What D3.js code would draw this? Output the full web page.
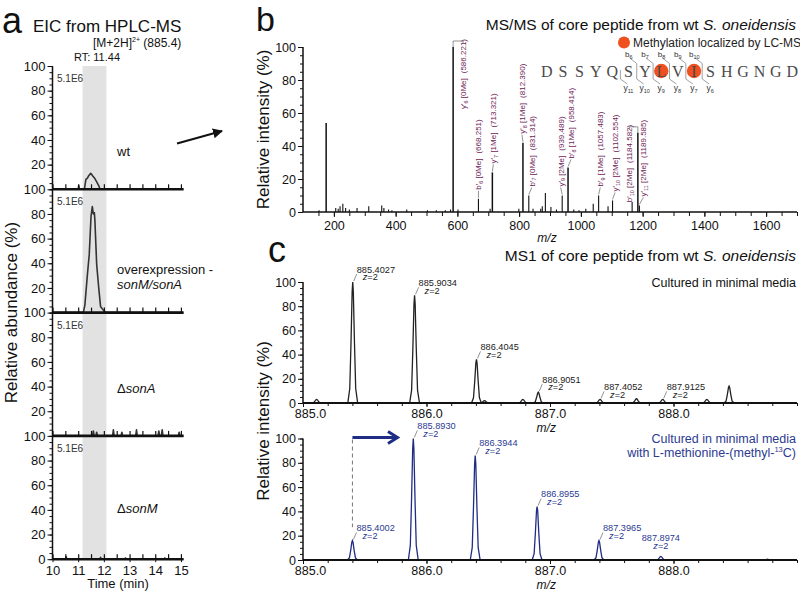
<!DOCTYPE html>
<html><head><meta charset="utf-8">
<script src="https://cdn.jsdelivr.net/npm/d3@7"></script>
<style>body{margin:0;background:#fff}svg{display:block}</style>
</head><body><svg id="c" width="800" height="593"></svg>
<script>
// ================= DATA =================
// Panel a: EIC traces [time (min), relative abundance %]
const eicTimeTicks = [10, 11, 12, 13, 14, 15];
const eicYTicks = [0, 20, 40, 60, 80, 100];
const eicScaleText = "5.1E6";
const eicRT = "RT: 11.44";
const wtTrace = [[10,0],[11.0,0],[11.02,3],[11.05,0],[11.24,0],[11.3,8],[11.36,9],[11.41,11],[11.49,13],[11.56,11],[11.64,9],[11.72,6],[11.8,3],[11.85,0],[15.1,0]];
const overTrace = [[10,0],[11.2,0],[11.26,6],[11.36,31],[11.43,47],[11.5,78],[11.55,86],[11.59,80],[11.63,81],[11.65,75],[11.72,39],[11.8,20],[11.87,5],[11.98,2],[12.08,0],[15.1,0]];
const sonASpikes = [[11.59,4],[11.72,3],[12.37,5],[12.7,3],[13.27,5],[14.14,4],[14.27,5],[14.93,3]];
const sonMSpikes = [[10.53,2],[11.87,1.5],[12.84,1],[14.37,1]];
const rtWindow = [11.17, 12.1];

// Panel b: MS/MS centroid peaks
const msmsMz  = [152,175,206,214,220,229,238,250,275,313,355,362,377,388,436,503,532,561,578,586.221,602,668.251,706,713.321,799,812.390,831.314,845,870,875,885,903,921,939.489,958.414,977,994,1016,1040,1057.483,1088,1102.554,1166,1184.582,1189.585];
const msmsInt = [1,54,2.5,2,3.5,5,2.5,1.5,2.5,3.5,4,2.5,1.5,1,1.5,1,1,1,1.5,100,1.5,8,2,24,2,42,10,2,2,3.5,11.5,3,1.5,10,27,1.5,1,2,5,10,3.5,7,6,48,4];
const msmsXTicks = [200,400,600,800,1000,1200,1400,1600];
const msmsYTicks = [0,20,40,60,80,100];
const ionMz   = [586.221,668.251,713.321,812.390,831.314,939.489,958.414,1057.483,1102.554,1184.582,1189.585];
const ionType = ["y","b","y","y","b","y","b","b","y","b","y"];
const ionNum  = ["6","6","7","8","7","9","8","9","10","10","11"];
const ionMe   = ["0Me","0Me","1Me","1Me","0Me","2Me","1Me","1Me","2Me","2Me","2Me"];
const sequence = ["D","S","S","Y","Q","S","Y","L","V","I","S","H","G","N","G","D"];
const methylated = [7, 9];
const bFragments = [6,7,8,9,10];
const yFragments = [11,10,9,8,7,6];

// Panel c: MS1 isotope peaks
const ms1XTicks = [885.0, 886.0, 887.0, 888.0];
const ms1TopMz  = [885.11,885.4027,885.9034,886.4045,886.47,886.78,886.9051,887.4052,887.70,887.9125,888.27,888.45];
const ms1TopInt = [3,100,89,36,2,3,9,3,3.5,3,3,14];
const ms1TopLabels = ["885.4027","885.9034","886.4045","886.9051","887.4052","887.9125"];
const ms1BotMz  = [885.4002,885.8930,886.3944,886.8955,887.3965,887.8974,888.76];
const ms1BotInt = [16,100,86,44,16,3,0.6];
const ms1BotLabels = ["885.4002","885.8930","886.3944","886.8955","887.3965","887.8974"];

// ================= DRAW =================
const FONT = '"Liberation Sans", Arial, Helvetica, sans-serif';
const svg = d3.select("#c").attr("font-family", FONT);
const PURPLE = "#6e2256", NAVY = "#1f2d85", NAVYTXT = "#2c3a92", ORANGE = "#f0501f";

function txt(x, y, s, o = {}) {
  const t = svg.append("text").attr("x", x).attr("y", y).text(s)
    .attr("font-size", o.size || 12).attr("fill", o.fill || "#111")
    .attr("text-anchor", o.anchor || "start");
  if (o.italic) t.attr("font-style", "italic");
  return t;
}
function yAxis(g, y, x0, labels, labelSize) {
  const minor = g.append("g").attr("transform", `translate(${x0},0)`)
    .call(d3.axisLeft(y).tickValues(d3.range(0, 101, 5)).tickSize(3).tickFormat(""));
  const major = g.append("g").attr("transform", `translate(${x0},0)`)
    .call(d3.axisLeft(y).tickValues(labels).tickSize(5).tickPadding(2).tickFormat(d3.format("d")));
  [minor, major].forEach(a => { a.select(".domain").remove(); a.selectAll("line").attr("stroke", "#111").attr("stroke-width", 1); });
  major.selectAll("text").attr("font-size", labelSize).attr("font-family", FONT).attr("fill", "#111");
}

// ---------- Panel a ----------
txt(2, 33, "a", { size: 36 });
txt(33, 31.5, "EIC from HPLC-MS", { size: 17 });
const sub = txt(93, 46.5, "[M+2H]", { size: 12 });
sub.append("tspan").attr("font-size", 7).attr("dy", -5).text("2+");
sub.append("tspan").attr("dy", 5).text(" (885.4)");
txt(97, 61, eicRT, { size: 11, anchor: "middle" });

const xA = d3.scaleLinear().domain([10, 15.1]).range([52.5, 183.5]);
const aTop = 66, aH = 123.3;
const ga = svg.append("g");
ga.append("rect").attr("x", xA(rtWindow[0])).attr("width", xA(rtWindow[1]) - xA(rtWindow[0]))
  .attr("y", aTop).attr("height", aH * 4).attr("fill", "#e2e2e2");

function spikesToTrace(sp) {
  const pts = [[10, 0]];
  sp.forEach(([t, h]) => { pts.push([t - 0.03, 0], [t, h], [t + 0.03, 0]); });
  pts.push([15.1, 0]);
  return pts;
}
const traces = [wtTrace, overTrace, spikesToTrace(sonASpikes), spikesToTrace(sonMSpikes)];
traces.forEach((tr, i) => {
  const y = d3.scaleLinear().domain([0, 100]).range([aTop + (i + 1) * aH, aTop + i * aH]);
  yAxis(ga, y, xA(10), i === 3 ? eicYTicks : eicYTicks.slice(1), 13);
  ga.append("path").datum(tr).attr("fill", "none").attr("stroke", "#333").attr("stroke-width", 1.6)
    .attr("stroke-linejoin", "round")
    .attr("d", d3.line().x(d => xA(d[0])).y(d => y(d[1])));
  ga.append("line").attr("x1", xA(10)).attr("x2", xA(15.1)).attr("y1", y(0)).attr("y2", y(0))
    .attr("stroke", "#111").attr("stroke-width", 2.6);
  const tk = ga.append("g").attr("transform", `translate(0,${y(0)})`)
    .call(d3.axisTop(xA).tickValues(d3.range(10, 15.01, 0.5)).tickSize(5).tickFormat(""));
  tk.select(".domain").remove(); tk.selectAll("line").attr("stroke", "#111").attr("stroke-width", 1.2);
  txt(57, aTop + i * aH + 16, eicScaleText, { size: 10, fill: "#333" });
});
ga.append("line").attr("x1", xA(10)).attr("x2", xA(10)).attr("y1", aTop).attr("y2", aTop + 4 * aH)
  .attr("stroke", "#111").attr("stroke-width", 1.5);
const xAx = ga.append("g").attr("transform", `translate(0,${aTop + 4 * aH})`)
  .call(d3.axisBottom(xA).tickValues(eicTimeTicks).tickSize(3).tickPadding(4).tickFormat(d3.format("d")));
xAx.select(".domain").remove();
xAx.selectAll("line").attr("stroke", "#111");
xAx.selectAll("text").attr("font-size", 13).attr("font-family", FONT).attr("fill", "#111");
txt((xA(10) + xA(15.1)) / 2, 588, "Time  (min)", { size: 13, anchor: "middle" });
svg.append("text").attr("transform", `translate(17,${aTop + 2 * aH}) rotate(-90)`)
  .attr("text-anchor", "middle").attr("font-size", 17).attr("fill", "#111").text("Relative abundance (%)");
txt(117, 156, "wt", { size: 13 });
const ov = txt(117, 274, "overexpression -", { size: 13 });
ov.append("tspan").attr("x", 117).attr("dy", 14.5).attr("font-style", "italic").text("sonM/sonA");
const dA = txt(117, 393, "Δ", { size: 13 }); dA.append("tspan").attr("font-style", "italic").text("sonA");
const dM = txt(117, 513, "Δ", { size: 13 }); dM.append("tspan").attr("font-style", "italic").text("sonM");

// arrow a -> b
svg.append("defs").html('<marker id="ah" viewBox="0 0 10 10" refX="9" refY="5" markerWidth="5" markerHeight="5" orient="auto"><path d="M0,0 L10,5 L0,10 z" fill="#111"/></marker>');
svg.append("line").attr("x1", 177).attr("y1", 143.5).attr("x2", 222).attr("y2", 131)
  .attr("stroke", "#111").attr("stroke-width", 2).attr("marker-end", "url(#ah)");

// ---------- Panel b ----------
txt(256, 31, "b", { size: 34 });
const tb = txt(796, 30, "MS/MS of core peptide from wt ", { size: 15.5, anchor: "end" });
tb.append("tspan").attr("font-style", "italic").text("S. oneidensis");

const xB = d3.scaleLinear().domain([100, 1700]).range([303, 797]);
const yB = d3.scaleLinear().domain([0, 100]).range([212, 47]);
const gb = svg.append("g");
yAxis(gb, yB, xB(100), msmsYTicks, 12.5);
gb.append("line").attr("x1", xB(100)).attr("x2", xB(100)).attr("y1", yB(100)).attr("y2", yB(0)).attr("stroke", "#111").attr("stroke-width", 1.5);
gb.selectAll(".pk").data(msmsMz.map((m, i) => [m, msmsInt[i]])).join("line")
  .attr("x1", d => xB(d[0])).attr("x2", d => xB(d[0])).attr("y1", yB(0)).attr("y2", d => yB(d[1]))
  .attr("stroke", "#111").attr("stroke-width", d => d[1] > 15 ? 1.5 : 1.1);
gb.append("line").attr("x1", xB(100)).attr("x2", xB(1700)).attr("y1", yB(0)).attr("y2", yB(0)).attr("stroke", "#111").attr("stroke-width", 1.6);
const minB = gb.append("g").attr("transform", `translate(0,${yB(0)})`)
  .call(d3.axisBottom(xB).tickValues(d3.range(150, 1701, 50)).tickSize(4).tickFormat(""));
minB.select(".domain").remove(); minB.selectAll("line").attr("stroke", "#111");
const majB = gb.append("g").attr("transform", `translate(0,${yB(0)})`)
  .call(d3.axisBottom(xB).tickValues(msmsXTicks).tickSize(5).tickPadding(4).tickFormat(d3.format("d")));
majB.select(".domain").remove(); majB.selectAll("line").attr("stroke", "#111");
majB.selectAll("text").attr("font-size", 12.5).attr("font-family", FONT).attr("fill", "#111");
txt(547, 242, "m/z", { size: 12, italic: true, anchor: "middle" });
svg.append("text").attr("transform", `translate(269,${(yB(0) + yB(100)) / 2}) rotate(-90)`)
  .attr("text-anchor", "middle").attr("font-size", 17).attr("fill", "#111").text("Relative intensity (%)");

// ion annotations (vertical labels)
const labOffset = { 0: 10, 2: 1, 3: -1, 4: 3, 5: -1.5, 6: 3, 7: 1.7, 8: 2.5, 9: -8.5, 10: 4 };
ionMz.forEach((mz, i) => {
  const inten = msmsInt[msmsMz.indexOf(mz)];
  const px = xB(mz), py = yB(inten);
  const lx = px + (labOffset[i] || 0);
  const g = gb.append("g");
  const t = g.append("text").attr("y", 2.8).attr("font-size", 8).attr("fill", PURPLE);
  t.append("tspan").text(ionType[i] + "′");
  t.append("tspan").attr("font-size", 5.5).attr("dy", 1.8).text(ionNum[i]);
  t.append("tspan").attr("dy", -1.8).text(` [${ionMe[i]}]`);
  t.append("tspan").attr("dx", 5).text(`(${mz.toFixed(3)})`);
  const L = t.node().getComputedTextLength();
  let ys;
  if (inten > 45) {
    const top = py - 4;
    ys = top + L + 1;
    gb.append("path").attr("d", `M${px},${py} V${top - 2} H${lx} V${top + 1}`)
      .attr("fill", "none").attr("stroke", "#777").attr("stroke-width", 0.8);
  } else {
    ys = py - 9;
    gb.append("line").attr("x1", px).attr("y1", py - 1).attr("x2", lx).attr("y2", ys + 1)
      .attr("stroke", "#777").attr("stroke-width", 0.8);
  }
  g.attr("transform", `translate(${lx},${ys}) rotate(-90)`);
});

// legend + sequence
svg.append("circle").attr("cx", 624).attr("cy", 42.5).attr("r", 6).attr("fill", ORANGE);
txt(633, 46.5, "Methylation localized by LC-MS", { size: 12, fill: "#222" });
const seqX = i => 546.7 + i * 16.37;
methylated.forEach(i => svg.append("circle").attr("cx", seqX(i)).attr("cy", 71).attr("r", 7.2).attr("fill", ORANGE));
sequence.forEach((r, i) => txt(seqX(i), 76.5, r, { size: 16, anchor: "middle", fill: "#4a4a4a" })
  .attr("font-family", '"Liberation Serif", "DejaVu Serif", serif'));
const gapX = n => (seqX(n - 1) + seqX(n)) / 2;
bFragments.forEach(n => {
  const gx = gapX(n);
  svg.append("path").attr("d", `M${gx - 7},58 L${gx},63.5 V70`).attr("fill", "none").attr("stroke", "#888").attr("stroke-width", 0.8);
  const t = txt(gx - 8, 57, "b", { size: 8, anchor: "middle", fill: "#333" });
  t.append("tspan").attr("font-size", 5.5).attr("dy", 1.5).text(n);
});
yFragments.forEach(n => {
  const gx = gapX(sequence.length - n);
  svg.append("path").attr("d", `M${gx},70 V79 L${gx + 7},84`).attr("fill", "none").attr("stroke", "#888").attr("stroke-width", 0.8);
  const t = txt(gx + 8, 91, "y", { size: 8.5, anchor: "middle", fill: "#333" });
  t.append("tspan").attr("font-size", 5.5).attr("dy", 1.5).text(n);
});

// ---------- Panel c ----------
txt(268, 262, "c", { size: 36 });
const tc = txt(796, 261, "MS1 of core peptide from wt ", { size: 15.5, anchor: "end" });
tc.append("tspan").attr("font-style", "italic").text("S. oneidensis");

const xC = d3.scaleLinear().domain([885, 889]).range([303, 797]);
const yC1 = d3.scaleLinear().domain([0, 100]).range([403, 282]);
const yC2 = d3.scaleLinear().domain([0, 100]).range([560, 438.5]);
const peakShape = [[-1, 0], [-0.6, 0.12], [-0.35, 0.5], [-0.12, 0.92], [0, 1], [0.12, 0.92], [0.35, 0.5], [0.6, 0.12], [1, 0]];
const HW = 0.04;
function profile(mzs, ints) {
  const pts = [[885, 0]];
  mzs.forEach((m, i) => peakShape.forEach(([dx, f]) => pts.push([m + dx * HW, ints[i] * f])));
  pts.push([889, 0]);
  return pts;
}
function isoLabel(x, y, lab, col, anchor, zdx) {
  const t = txt(x, y, lab, { size: 9.2, anchor: anchor, fill: col });
  const z = t.append("tspan").attr("x", x + zdx).attr("dy", 7.8);
  z.append("tspan").attr("font-style", "italic").text("z");
  z.append("tspan").text("=2");
}
const gc = svg.append("g");
[[yC1, ms1TopMz, ms1TopInt, ms1TopLabels, "#222", "#222"], [yC2, ms1BotMz, ms1BotInt, ms1BotLabels, NAVY, NAVYTXT]].forEach(([y, mzs, ints, labs, col, tcol], k) => {
  yAxis(gc, y, xC(885), msmsYTicks, 12.5);
  gc.append("line").attr("x1", xC(885)).attr("x2", xC(885)).attr("y1", y(100)).attr("y2", y(0)).attr("stroke", "#111").attr("stroke-width", 1.5);
  gc.append("path").datum(profile(mzs, ints)).attr("fill", "none").attr("stroke", col).attr("stroke-width", 1.3)
    .attr("d", d3.line().x(d => xC(d[0])).y(d => y(d[1])));
  gc.append("line").attr("x1", xC(885)).attr("x2", xC(889)).attr("y1", y(0)).attr("y2", y(0)).attr("stroke", "#111").attr("stroke-width", 1.8);
  const mn = gc.append("g").attr("transform", `translate(0,${y(0)})`)
    .call(d3.axisBottom(xC).tickValues(d3.range(885, 889.01, 0.2)).tickSize(3).tickFormat(""));
  mn.select(".domain").remove(); mn.selectAll("line").attr("stroke", "#111");
  const mj = gc.append("g").attr("transform", `translate(0,${y(0)})`)
    .call(d3.axisBottom(xC).tickValues(ms1XTicks).tickSize(4).tickPadding(2).tickFormat(d3.format(".1f")));
  mj.select(".domain").remove(); mj.selectAll("line").attr("stroke", "#111");
  mj.selectAll("text").attr("font-size", 12.5).attr("font-family", FONT).attr("fill", "#111")
    .attr("dx", (d, i) => i === 0 ? 7 : 0);
  txt(xC(886.97), y(0) + 28.5, "m/z", { size: 12, italic: true, anchor: "middle" });
  labs.forEach((lab, j) => {
    const idx = mzs.findIndex(m => m.toFixed(4) === lab);
    const px = xC(mzs[idx]), py = y(ints[idx]);
    if (k === 1 && j === labs.length - 1) {
      isoLabel(px, py - 15, lab, tcol, "middle", 0);
      return;
    }
    gc.append("line").attr("x1", px + 1).attr("y1", py - 1).attr("x2", px + 4).attr("y2", py - 8)
      .attr("stroke", "#777").attr("stroke-width", 0.8);
    isoLabel(px + 4, py - 9.5, lab, tcol, "start", 6);
  });
});
txt(796, 287, "Cultured in minimal media", { size: 12.5, anchor: "end", fill: "#111" });
const w13 = txt(796, 443, "Cultured in minimal media", { size: 12.5, anchor: "end", fill: NAVYTXT });
w13.append("tspan").attr("x", 796).attr("dy", 14).text("with L-methionine-(methyl-");
w13.append("tspan").attr("font-size", 7.5).attr("dy", -5).text("13");
w13.append("tspan").attr("dy", 5).text("C)");
svg.append("text").attr("transform", `translate(269,${(yC1(100) + yC2(0)) / 2}) rotate(-90)`)
  .attr("text-anchor", "middle").attr("font-size", 17).attr("fill", "#111").text("Relative intensity (%)");
// shift arrow + dashed line
const ax0 = xC(ms1BotMz[0]);
gc.append("line").attr("x1", ax0).attr("x2", ax0).attr("y1", yC2(100) + 1).attr("y2", yC2(27))
  .attr("stroke", "#777").attr("stroke-width", 1).attr("stroke-dasharray", "4,3");
gc.append("line").attr("x1", ax0).attr("x2", 397).attr("y1", yC2(100) - 1).attr("y2", yC2(100) - 1)
  .attr("stroke", NAVY).attr("stroke-width", 3);
gc.append("path").attr("d", `M388,${yC2(100) - 7} L397.5,${yC2(100) - 1} L388,${yC2(100) + 5}`)
  .attr("fill", "none").attr("stroke", NAVY).attr("stroke-width", 3);
</script></body></html>
